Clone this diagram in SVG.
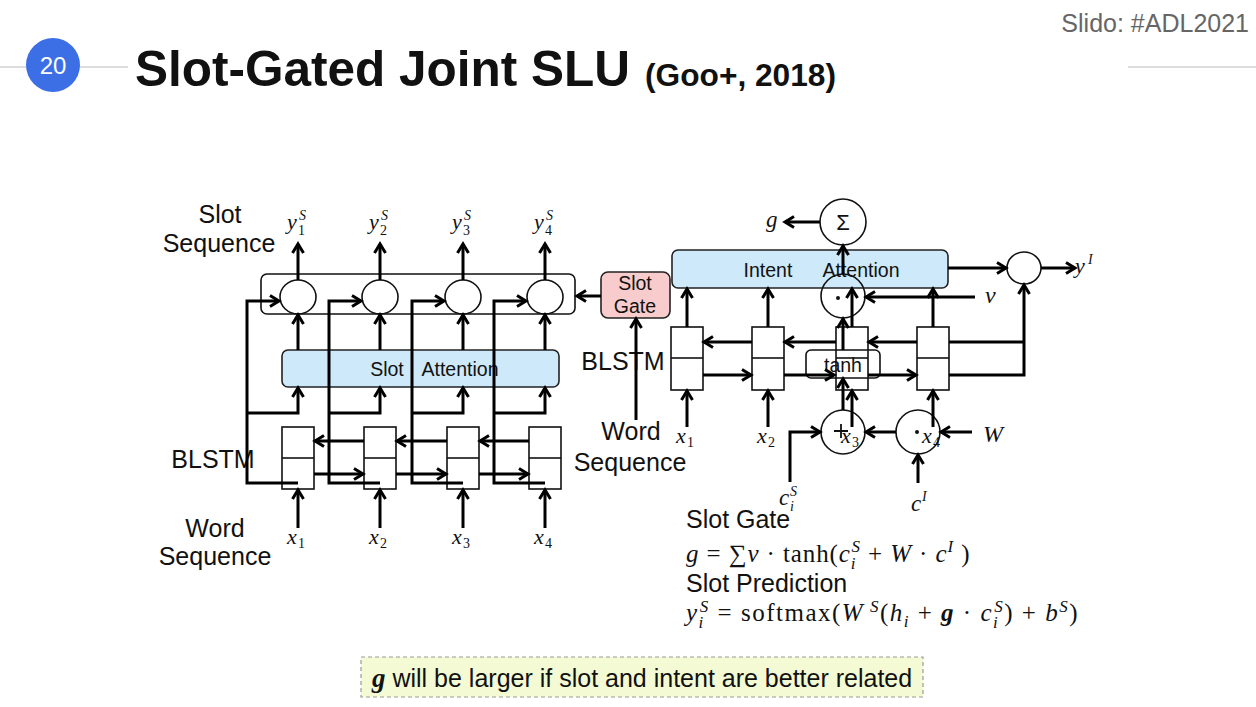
<svg xmlns="http://www.w3.org/2000/svg" width="1256" height="707" viewBox="0 0 1256 707">
  <style>
    .sans { font-family: "Liberation Sans", Arial, sans-serif; fill: #111; }
    .lbl { font-size: 25px; }
    .box-txt { font-size: 19.5px; }
    .math { font-family: "Liberation Serif", "DejaVu Serif", serif; fill: #111; }
    .it { font-style: italic; }
    .wire { fill: none; stroke: #000; stroke-width: 3; }
    .arr { fill: none; stroke: #000; stroke-width: 3; marker-end: url(#head); }
    .cell { fill: #fff; stroke: #111; stroke-width: 1.6; }
    .ring { fill: none; stroke: #111; stroke-width: 1.6; }
    .att { fill: #cde9fa; stroke: #222; stroke-width: 1.6; }
    .gate { fill: #f8cccc; stroke: #222; stroke-width: 1.6; }
    .eq { font-size: 25px; letter-spacing: 0.9px; }
    .eq2 { font-size: 25px; letter-spacing: 1.5px; }
  </style>
  <defs>
    <marker id="head" viewBox="0 0 14 14" refX="11" refY="7" markerWidth="14" markerHeight="14" markerUnits="userSpaceOnUse" orient="auto">
      <path d="M2,1.5 L11,7 L2,12.5" fill="none" stroke="#000" stroke-width="3"/>
    </marker>
  </defs>
  <rect width="1256" height="707" fill="#fff"/>

  <!-- header -->
  <g id="header">
    <line x1="0" y1="67" x2="128" y2="67" stroke="#d0d0d0" stroke-width="1.5"/>
    <line x1="1128" y1="67" x2="1256" y2="67" stroke="#d0d0d0" stroke-width="1.5"/>
    <circle cx="53" cy="65" r="27" fill="#3c6fe6"/>
    <text x="53" y="74" text-anchor="middle" class="sans" style="fill:#fff" font-size="24">20</text>
    <text x="135" y="86" class="sans" font-size="50" font-weight="bold" textLength="495" lengthAdjust="spacingAndGlyphs">Slot-Gated Joint SLU</text>
    <text x="645" y="86" class="sans" font-size="31" font-weight="bold" textLength="191" lengthAdjust="spacingAndGlyphs">(Goo+, 2018)</text>
    <text x="1249" y="32" text-anchor="end" class="sans" style="fill:#666" font-size="25">Slido: #ADL2021</text>
  </g>

  <!-- left model: slot sequence side -->
  <g id="slot-output">
    <rect x="261" y="274" width="314" height="40" rx="6" class="ring"/>
    <ellipse cx="298" cy="297" rx="18" ry="17" class="ring"/>
    <ellipse cx="380" cy="297" rx="18" ry="17" class="ring"/>
    <ellipse cx="463" cy="297" rx="18" ry="17" class="ring"/>
    <ellipse cx="545" cy="297" rx="18" ry="17" class="ring"/>
  </g>
  <g id="slot-attention">
    <rect x="282" y="350" width="277" height="37" rx="6" class="att"/>
    <text x="387" y="376" text-anchor="middle" class="sans box-txt">Slot</text>
    <text x="460" y="376" text-anchor="middle" class="sans box-txt">Attention</text>
  </g>
  <g id="left-blstm">
    <rect x="282" y="427" width="32" height="62" class="cell"/>
    <line x1="282" y1="458" x2="314" y2="458" stroke="#111" stroke-width="1.6"/>
    <rect x="364" y="427" width="32" height="62" class="cell"/>
    <line x1="364" y1="458" x2="396" y2="458" stroke="#111" stroke-width="1.6"/>
    <rect x="447" y="427" width="32" height="62" class="cell"/>
    <line x1="447" y1="458" x2="479" y2="458" stroke="#111" stroke-width="1.6"/>
    <rect x="529" y="427" width="32" height="62" class="cell"/>
    <line x1="529" y1="458" x2="561" y2="458" stroke="#111" stroke-width="1.6"/>
  </g>
  <g id="left-labels">
    <text x="220" y="223" text-anchor="middle" class="sans lbl">Slot</text>
    <text x="219" y="252" text-anchor="middle" class="sans lbl">Sequence</text>
    <text x="213" y="468" text-anchor="middle" class="sans lbl">BLSTM</text>
    <text x="215" y="537" text-anchor="middle" class="sans lbl">Word</text>
    <text x="215" y="565" text-anchor="middle" class="sans lbl">Sequence</text>
  </g>
  <g id="left-math" class="math">
    <text x="287" y="229" font-size="22" class="it">y</text><text x="298" y="235" font-size="14">1</text><text x="299" y="220" font-size="14" class="it">S</text>
    <text x="369" y="229" font-size="22" class="it">y</text><text x="380" y="235" font-size="14">2</text><text x="381" y="220" font-size="14" class="it">S</text>
    <text x="452" y="229" font-size="22" class="it">y</text><text x="463" y="235" font-size="14">3</text><text x="464" y="220" font-size="14" class="it">S</text>
    <text x="534" y="229" font-size="22" class="it">y</text><text x="545" y="235" font-size="14">4</text><text x="546" y="220" font-size="14" class="it">S</text>
    <text x="287" y="544" font-size="22" class="it">x</text><text x="298" y="548" font-size="14">1</text>
    <text x="369" y="544" font-size="22" class="it">x</text><text x="380" y="548" font-size="14">2</text>
    <text x="452" y="544" font-size="22" class="it">x</text><text x="463" y="548" font-size="14">3</text>
    <text x="534" y="544" font-size="22" class="it">x</text><text x="545" y="548" font-size="14">4</text>
  </g>

  <!-- right model: intent side and slot gate -->
  <g id="intent-attention">
    <rect x="672" y="250" width="276" height="38" rx="6" class="att"/>
    <text x="768" y="277" text-anchor="middle" class="sans box-txt">Intent</text>
    <text x="861" y="277" text-anchor="middle" class="sans box-txt">Attention</text>
  </g>
  <g id="slot-gate">
    <rect x="601" y="272" width="69" height="46" rx="7" class="gate"/>
    <text x="635" y="290" text-anchor="middle" class="sans box-txt">Slot</text>
    <text x="635" y="313" text-anchor="middle" class="sans box-txt">Gate</text>
  </g>
  <g id="right-blstm">
    <rect x="671" y="327" width="32" height="63" class="cell"/>
    <line x1="671" y1="358" x2="703" y2="358" stroke="#111" stroke-width="1.6"/>
    <rect x="752" y="327" width="32" height="63" class="cell"/>
    <line x1="752" y1="358" x2="784" y2="358" stroke="#111" stroke-width="1.6"/>
    <rect x="836" y="327" width="32" height="63" class="cell"/>
    <line x1="836" y1="358" x2="868" y2="358" stroke="#111" stroke-width="1.6"/>
    <rect x="917" y="327" width="32" height="63" class="cell"/>
    <line x1="917" y1="358" x2="949" y2="358" stroke="#111" stroke-width="1.6"/>
  </g>
  <g id="tanh">
    <rect x="806" y="350" width="74" height="28" rx="5" class="ring"/>
    <text x="843" y="372" text-anchor="middle" class="sans box-txt">tanh</text>
  </g>
  <g id="sum">
    <circle cx="843" cy="222" r="23" class="ring"/>
    <text x="843" y="230" text-anchor="middle" class="sans" font-size="22">Σ</text>
  </g>
  <g id="dot-v">
    <circle cx="843" cy="296" r="22" class="ring"/>
    <circle cx="838" cy="298" r="2" fill="#111"/>
  </g>
  <g id="plus">
    <circle cx="843" cy="432" r="22" class="ring"/>
    <path d="M834,431 H848 M841,424 V438" stroke="#111" stroke-width="1.8"/>
  </g>
  <g id="dot-w">
    <circle cx="918" cy="432" r="22" class="ring"/>
    <circle cx="917" cy="432" r="2" fill="#111"/>
  </g>
  <g id="intent-out">
    <ellipse cx="1024" cy="268" rx="17" ry="16" class="ring"/>
  </g>
  <g id="right-labels">
    <text x="623" y="370" text-anchor="middle" class="sans lbl">BLSTM</text>
    <text x="631" y="440" text-anchor="middle" class="sans lbl">Word</text>
    <text x="630" y="471" text-anchor="middle" class="sans lbl">Sequence</text>
  </g>
  <g id="right-math" class="math">
    <text x="766" y="227" font-size="23" class="it">g</text>
    <text x="985" y="303" font-size="24" class="it">v</text>
    <text x="983" y="442" font-size="24" class="it">W</text>
    <text x="1075" y="273" font-size="22" class="it">y</text><text x="1088" y="264" font-size="14" class="it">I</text>
    <text x="779" y="505" font-size="23" class="it">c</text><text x="790" y="496" font-size="14" class="it">S</text><text x="790" y="511" font-size="14" class="it">i</text>
    <text x="911" y="511" font-size="23" class="it">c</text><text x="922" y="501" font-size="14" class="it">I</text>
    <text x="676" y="443" font-size="22" class="it">x</text><text x="687" y="447" font-size="14">1</text>
    <text x="757" y="443" font-size="22" class="it">x</text><text x="768" y="447" font-size="14">2</text>
    <text x="841" y="443" font-size="22" class="it">x</text><text x="852" y="447" font-size="14">3</text>
    <text x="922" y="443" font-size="22" class="it">x</text><text x="933" y="447" font-size="14">4</text>
  </g>

  <!-- connectors -->
  <g id="connectors">
    <!-- outputs of slot combiners -->
    <path class="arr" d="M298,280 V244"/>
    <path class="arr" d="M380,280 V244"/>
    <path class="arr" d="M463,280 V244"/>
    <path class="arr" d="M545,280 V244"/>
    <!-- slot attention to combiners -->
    <path class="arr" d="M298,350 V315"/>
    <path class="arr" d="M380,350 V315"/>
    <path class="arr" d="M463,350 V315"/>
    <path class="arr" d="M545,350 V315"/>
    <!-- hidden states routed to combiners and attention -->
    <path class="arr" d="M298,483 H247 V301 H279"/>
    <path class="arr" d="M247,413 H298 V388"/>
    <path class="arr" d="M380,483 H329 V301 H361"/>
    <path class="arr" d="M329,413 H380 V388"/>
    <path class="arr" d="M463,483 H412 V301 H444"/>
    <path class="arr" d="M412,413 H463 V388"/>
    <path class="arr" d="M545,483 H494 V301 H526"/>
    <path class="arr" d="M494,413 H545 V388"/>
    <!-- left BLSTM recurrences -->
    <path class="arr" d="M364,441 H315"/>
    <path class="arr" d="M447,441 H397"/>
    <path class="arr" d="M529,441 H480"/>
    <path class="arr" d="M314,474 H363"/>
    <path class="arr" d="M396,474 H446"/>
    <path class="arr" d="M479,474 H528"/>
    <!-- left inputs -->
    <path class="arr" d="M298,528 V490"/>
    <path class="arr" d="M380,528 V490"/>
    <path class="arr" d="M463,528 V490"/>
    <path class="arr" d="M545,528 V490"/>

    <!-- slot gate -->
    <path class="arr" d="M601,296 H577"/>
    <path class="arr" d="M636,420 V319"/>

    <!-- right BLSTM to intent attention -->
    <path class="arr" d="M687,327 V289"/>
    <path class="arr" d="M768,327 V289"/>
    <path class="arr" d="M852,327 V289"/>
    <path class="arr" d="M933,327 V289"/>
    <!-- right inputs -->
    <path class="arr" d="M687,427 V391"/>
    <path class="arr" d="M768,427 V391"/>
    <path class="arr" d="M852,427 V391"/>
    <path class="arr" d="M933,427 V391"/>
    <!-- right BLSTM recurrences -->
    <path class="arr" d="M752,342 H704"/>
    <path class="arr" d="M836,342 H785"/>
    <path class="arr" d="M917,342 H869"/>
    <path class="arr" d="M703,375 H751"/>
    <path class="arr" d="M784,375 H834"/>
    <path class="arr" d="M868,375 H916"/>
    <!-- final states to intent output -->
    <path class="wire" d="M949,342 H1024"/>
    <path class="arr" d="M949,375 H1024 V285"/>
    <path class="arr" d="M948,268 H1006"/>
    <path class="arr" d="M1041,268 H1075"/>
    <!-- gate computation -->
    <path class="arr" d="M820,222 H785"/>
    <path class="arr" d="M843,274 V246"/>
    <path class="arr" d="M975,297 H866"/>
    <path class="arr" d="M843,410 V379"/>
    <path class="arr" d="M843,350 V319"/>
    <path class="arr" d="M896,432 H866"/>
    <path class="arr" d="M972,432 H941"/>
    <path class="arr" d="M918,483 V455"/>
    <path class="arr" d="M790,482 V432 H820"/>
  </g>

  <!-- formulas -->
  <g id="formulas">
    <text x="686" y="528" class="sans lbl">Slot Gate</text>
    <text x="686" y="562" class="math eq"><tspan class="it">g</tspan> = ∑<tspan class="it">v</tspan> · tanh(<tspan class="it">c</tspan><tspan class="it" font-size="17" dy="7">i</tspan><tspan class="it" font-size="17" dx="-5" dy="-17">S</tspan><tspan dy="10"> + </tspan><tspan class="it">W</tspan> · <tspan class="it">c</tspan><tspan class="it" font-size="17" dy="-10">I</tspan><tspan dy="10"> )</tspan></text>
    <text x="686" y="592" class="sans lbl">Slot Prediction</text>
    <text x="686" y="621" class="math eq2"><tspan class="it">y</tspan><tspan class="it" font-size="17" dy="7">i</tspan><tspan class="it" font-size="17" dx="-5" dy="-16">S</tspan><tspan dy="9"> = softmax(</tspan><tspan class="it">W</tspan><tspan class="it" font-size="17" dy="-9"> S</tspan><tspan dy="9">(</tspan><tspan class="it">h</tspan><tspan class="it" font-size="17" dy="6">i</tspan><tspan dy="-6"> + </tspan><tspan class="it" font-weight="bold">g</tspan> · <tspan class="it">c</tspan><tspan class="it" font-size="17" dy="7">i</tspan><tspan class="it" font-size="17" dx="-5" dy="-16">S</tspan><tspan dy="9">) + </tspan><tspan class="it">b</tspan><tspan class="it" font-size="17" dy="-9">S</tspan><tspan dy="9">)</tspan></text>
  </g>

  <!-- note -->
  <g id="note">
    <rect x="361" y="657" width="562" height="40" fill="#f4fad4" stroke="#9a9a9a" stroke-width="1.2" stroke-dasharray="4,3"/>
    <text x="372" y="687" font-size="25"><tspan class="math it" font-weight="bold" font-size="27">g</tspan><tspan class="sans"> will be larger if slot and intent are better related</tspan></text>
  </g>
</svg>
